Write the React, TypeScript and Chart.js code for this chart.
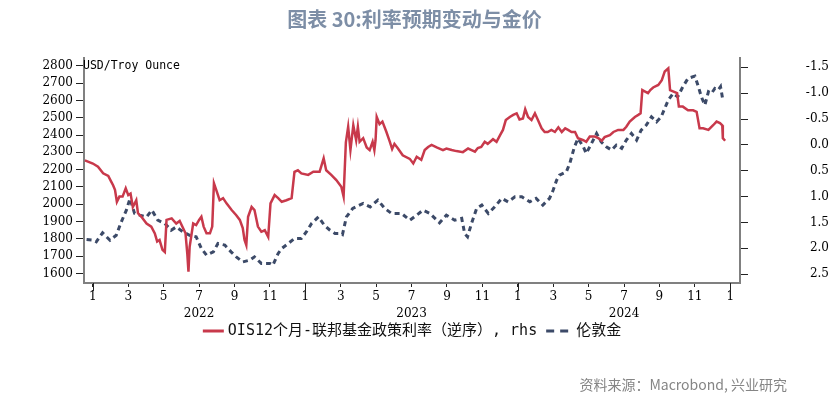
import React, { useEffect, useRef } from 'react';
import { Chart, registerables } from 'chart.js';

Chart.register(...registerables);

const titleText = '图表 30:利率预期变动与金价';
const sourceText = '资料来源：Macrobond, 兴业研究';
const unitLabel = 'USD/Troy Ounce';
const oisLabel = 'OIS12个月-联邦基金政策利率（逆序）, rhs';
const goldLabel = '伦敦金';

const leftTicks = [1600, 1700, 1800, 1900, 2000, 2100, 2200, 2300, 2400, 2500, 2600, 2700, 2800];
const rightTicks = [-1.5, -1.0, -0.5, 0.0, 0.5, 1.0, 1.5, 2.0, 2.5];

const goldDates = [
  '2021-12-21', '2022-01-01', '2022-01-07', '2022-01-18', '2022-01-31', '2022-02-10', '2022-02-18', '2022-02-26',
  '2022-03-04', '2022-03-12', '2022-03-21', '2022-04-02', '2022-04-11', '2022-04-21', '2022-05-03', '2022-05-14',
  '2022-05-23', '2022-06-04', '2022-06-15', '2022-06-26', '2022-07-05', '2022-07-14', '2022-07-26', '2022-08-03',
  '2022-08-15', '2022-08-26', '2022-09-04', '2022-09-15', '2022-09-27', '2022-10-05', '2022-10-17', '2022-11-01',
  '2022-11-06', '2022-11-15', '2022-11-21', '2022-12-02', '2022-12-13', '2022-12-25', '2023-01-03', '2023-01-12',
  '2023-01-24', '2023-02-03', '2023-02-12', '2023-02-20', '2023-02-28', '2023-03-04', '2023-03-11', '2023-03-22',
  '2023-04-09', '2023-04-21', '2023-05-04', '2023-05-16', '2023-05-28', '2023-06-14', '2023-06-28', '2023-07-10',
  '2023-07-21', '2023-08-02', '2023-08-19', '2023-08-31', '2023-09-14', '2023-09-26', '2023-10-01', '2023-10-06',
  '2023-10-13', '2023-10-22', '2023-10-31', '2023-11-11', '2023-11-22', '2023-12-04', '2023-12-15', '2023-12-27',
  '2024-01-08', '2024-01-22', '2024-02-02', '2024-02-13', '2024-02-24', '2024-03-01', '2024-03-07', '2024-03-12',
  '2024-03-24', '2024-03-30', '2024-04-07', '2024-04-13', '2024-04-22', '2024-04-27', '2024-05-06', '2024-05-15',
  '2024-05-23', '2024-06-01', '2024-06-10', '2024-06-18', '2024-06-27', '2024-07-05', '2024-07-14', '2024-07-23',
  '2024-07-31', '2024-08-09', '2024-08-18', '2024-08-27', '2024-09-04', '2024-09-10', '2024-09-16', '2024-09-24',
  '2024-10-02', '2024-10-11', '2024-10-20', '2024-11-01', '2024-11-07', '2024-11-12', '2024-11-18', '2024-11-24',
  '2024-11-29', '2024-12-05', '2024-12-11', '2024-12-15', '2024-12-19',
];

const goldPrices = [
  1797, 1793, 1783, 1835, 1792, 1821, 1898, 1966,
  2033, 1947, 1937, 1927, 1966, 1908, 1889, 1850,
  1869, 1840, 1821, 1812, 1744, 1706, 1725, 1773,
  1764, 1725, 1696, 1667, 1677, 1696, 1658, 1658,
  1648, 1716, 1744, 1773, 1802, 1802, 1841, 1889,
  1927, 1879, 1850, 1831, 1831, 1825, 1927, 1976,
  2005, 1985, 2024, 1976, 1947, 1947, 1908, 1937,
  1966, 1947, 1893, 1937, 1908, 1918, 1831, 1812,
  1889, 1976, 1995, 1947, 1985, 2034, 2014, 2043,
  2043, 2014, 2034, 1995, 2034, 2082, 2139, 2168,
  2187, 2236, 2332, 2380, 2332, 2294, 2351, 2409,
  2361, 2332, 2313, 2342, 2323, 2371, 2409, 2371,
  2428, 2457, 2505, 2476, 2505, 2554, 2602, 2640,
  2621, 2679, 2727, 2740, 2679, 2621, 2573, 2650,
  2640, 2669, 2660, 2679, 2602,
];

const oisDates = [
  '2021-12-18',
  '2022-01-01', '2022-01-10', '2022-01-19', '2022-01-28',
  '2022-02-02', '2022-02-05', '2022-02-08', '2022-02-11', '2022-02-15', '2022-02-20', '2022-02-25',
  '2022-03-01', '2022-03-05', '2022-03-09', '2022-03-15', '2022-03-18', '2022-03-24',
  '2022-04-02', '2022-04-10', '2022-04-16', '2022-04-20', '2022-04-24', '2022-04-29',
  '2022-05-03', '2022-05-06', '2022-05-15', '2022-05-23', '2022-05-29',
  '2022-06-04', '2022-06-08', '2022-06-11', '2022-06-13', '2022-06-15', '2022-06-21', '2022-06-26',
  '2022-07-01', '2022-07-05', '2022-07-09', '2022-07-14', '2022-07-20', '2022-07-24', '2022-07-27', '2022-07-31',
  '2022-08-06', '2022-08-12', '2022-08-18', '2022-08-27',
  '2022-09-04', '2022-09-10', '2022-09-15', '2022-09-18', '2022-09-21', '2022-09-24', '2022-09-30',
  '2022-10-05', '2022-10-11', '2022-10-17', '2022-10-23', '2022-10-29',
  '2022-11-02', '2022-11-09', '2022-11-15', '2022-11-21', '2022-11-29',
  '2022-12-08', '2022-12-13', '2022-12-19', '2022-12-25',
  '2023-01-06', '2023-01-15', '2023-01-26',
  '2023-02-02', '2023-02-06', '2023-02-14', '2023-02-22',
  '2023-03-02', '2023-03-06', '2023-03-10', '2023-03-14', '2023-03-18', '2023-03-23', '2023-03-28', '2023-03-31',
  '2023-04-03', '2023-04-09', '2023-04-15', '2023-04-20', '2023-04-25', '2023-04-28', '2023-04-30',
  '2023-05-02', '2023-05-07', '2023-05-12', '2023-05-19', '2023-05-25', '2023-05-29',
  '2023-06-02', '2023-06-08', '2023-06-16', '2023-06-28',
  '2023-07-04', '2023-07-10', '2023-07-18', '2023-07-24', '2023-07-30',
  '2023-08-05', '2023-08-14', '2023-08-25', '2023-08-31',
  '2023-09-09', '2023-09-17', '2023-09-28',
  '2023-10-07', '2023-10-13', '2023-10-19', '2023-10-24', '2023-10-30',
  '2023-11-05', '2023-11-10', '2023-11-19', '2023-11-25',
  '2023-12-01', '2023-12-06', '2023-12-11', '2023-12-18', '2023-12-24', '2023-12-30',
  '2024-01-04', '2024-01-10', '2024-01-14', '2024-01-19', '2024-01-25', '2024-01-31',
  '2024-02-05', '2024-02-11', '2024-02-16', '2024-02-21', '2024-02-27',
  '2024-03-04', '2024-03-10', '2024-03-16', '2024-03-22', '2024-03-27',
  '2024-04-02', '2024-04-08', '2024-04-13', '2024-04-22', '2024-04-27',
  '2024-05-03', '2024-05-12', '2024-05-18', '2024-05-24', '2024-05-29',
  '2024-06-07', '2024-06-13', '2024-06-21', '2024-06-30',
  '2024-07-05', '2024-07-11', '2024-07-20', '2024-07-26', '2024-07-30',
  '2024-08-02', '2024-08-07', '2024-08-12', '2024-08-16', '2024-08-21', '2024-08-30',
  '2024-09-05', '2024-09-10', '2024-09-16', '2024-09-19', '2024-09-25',
  '2024-10-01', '2024-10-04', '2024-10-11', '2024-10-20', '2024-10-29',
  '2024-11-04', '2024-11-09', '2024-11-15', '2024-11-24',
  '2024-12-02', '2024-12-08', '2024-12-14', '2024-12-18', '2024-12-19', '2024-12-23',
];

const oisSpread = [
  0.30,
  0.36, 0.42, 0.55, 0.60,
  0.71, 0.78, 0.87, 1.10, 1.00, 1.00, 0.84,
  0.97, 0.94, 1.20, 1.07, 1.32, 1.39,
  1.52, 1.58, 1.71, 1.87, 1.84, 2.03,
  2.07, 1.45, 1.42, 1.52, 1.47,
  1.61, 1.71, 2.10, 2.45, 1.97, 1.52, 1.55,
  1.45, 1.39, 1.58, 1.71, 1.71, 1.58, 0.74, 0.87,
  1.07, 1.03, 1.13, 1.26,
  1.36, 1.45, 1.61, 1.84, 1.94, 1.39, 1.20,
  1.26, 1.58, 1.68, 1.65, 1.78,
  1.13, 0.97, 1.03, 1.10, 1.07,
  1.03, 0.52, 0.49, 0.55,
  0.58, 0.52, 0.52,
  0.26, 0.49, 0.58, 0.68,
  0.81, 1.00, -0.05, -0.35, 0.10, -0.38, -0.09, -0.35,
  -0.06, -0.13, 0.05, 0.10, -0.06, 0.10, -0.09,
  -0.54, -0.40, -0.45, -0.25, -0.06, 0.08,
  -0.02, 0.07, 0.20, 0.27,
  0.36, 0.23, 0.29, 0.10, 0.04,
  0.00, 0.05, 0.10, 0.07,
  0.10, 0.12, 0.14,
  0.07, 0.10, 0.13, 0.06, 0.04,
  -0.06, -0.02, -0.11, -0.06,
  -0.19, -0.29, -0.48, -0.54, -0.58, -0.61,
  -0.49, -0.51, -0.69, -0.54, -0.48, -0.61,
  -0.48, -0.32, -0.25, -0.25, -0.29,
  -0.25, -0.34, -0.25, -0.32, -0.29,
  -0.25, -0.25, -0.13, -0.09, -0.06,
  -0.16, -0.16, -0.13, -0.08, -0.15,
  -0.19, -0.25, -0.29, -0.29,
  -0.35, -0.45, -0.54, -0.58, -0.61,
  -1.06, -1.03, -1.00, -1.06, -1.11, -1.16,
  -1.25, -1.42, -1.48, -1.06, -1.03,
  -1.00, -0.74, -0.74, -0.67, -0.67,
  -0.64, -0.32, -0.32, -0.29,
  -0.38, -0.45, -0.42, -0.38, -0.13, -0.08,
];

const BASE_YEAR = 2022;
const X_MIN = -0.5;
const X_MAX = 36.55;
const LEFT_MIN = 1545;
const LEFT_MAX = 2845;
const RIGHT_MIN = -1.68;
const RIGHT_MAX = 2.67;

const RED = '#c8394b';
const NAVY = '#3c4a68';
const AXIS_FONT = 'DejaVu Serif';

function monthIndex(d: string): number {
  const [y, m, day] = d.split('-').map(Number);
  const dim = new Date(y, m, 0).getDate();
  return (y - BASE_YEAR) * 12 + (m - 1) + (day - 1) / dim;
}

const extrasPlugin = {
  id: 'extras',
  afterDraw(chart: any) {
    const { ctx, chartArea, scales } = chart;
    ctx.save();
    ctx.font = '11.5px "DejaVu Sans Mono"';
    ctx.fillStyle = '#000';
    ctx.textAlign = 'left';
    ctx.textBaseline = 'middle';
    ctx.fillText(unitLabel, chartArea.left - 1, chartArea.top + 8);

    const xs = scales.x;
    ctx.strokeStyle = '#222';
    ctx.lineWidth = 1;
    xs.ticks.forEach((t: any) => {
      if (Math.round(t.value) % 12 === 0) {
        const px = Math.round(xs.getPixelForValue(t.value)) + 0.5;
        ctx.beginPath();
        ctx.moveTo(px, chartArea.bottom);
        ctx.lineTo(px, chartArea.bottom + 8);
        ctx.stroke();
      }
    });

    const ds = chart.data.datasets;
    ctx.font = '15px "DejaVu Sans Mono", "Noto Sans CJK SC"';
    const w1 = ctx.measureText(ds[0].label).width;
    const w2 = ctx.measureText(ds[1].label).width;
    const seg1 = 21, seg2 = 27;
    const total = seg1 + 4 + w1 + 9 + seg2 + 3 + w2;
    let x = (chartArea.left + chartArea.right) / 2 - total / 2;
    const ly = chartArea.bottom + 48;
    ctx.lineCap = 'butt';
    ctx.strokeStyle = ds[0].borderColor;
    ctx.lineWidth = 3;
    ctx.setLineDash([]);
    ctx.beginPath();
    ctx.moveTo(x, ly);
    ctx.lineTo(x + seg1, ly);
    ctx.stroke();
    x += seg1 + 4;
    ctx.fillStyle = '#111';
    ctx.textBaseline = 'middle';
    ctx.fillText(ds[0].label, x, ly);
    x += w1 + 9;
    ctx.strokeStyle = ds[1].borderColor;
    ctx.lineWidth = 3;
    ctx.setLineDash([8, 6]);
    ctx.beginPath();
    ctx.moveTo(x, ly);
    ctx.lineTo(x + seg2, ly);
    ctx.stroke();
    ctx.setLineDash([]);
    x += seg2 + 3;
    ctx.fillText(ds[1].label, x, ly);
    ctx.restore();
  },
};

export default function App() {
  const ref = useRef<HTMLCanvasElement>(null);

  useEffect(() => {
    const canvas = ref.current;
    if (!canvas) return;
    const axisTickFont = { family: AXIS_FONT, size: 12 };
    const chart = new Chart(canvas, {
      type: 'line',
      data: {
        datasets: [
          {
            label: oisLabel,
            data: oisDates.map((d, i) => ({ x: monthIndex(d), y: oisSpread[i] })),
            yAxisID: 'y1',
            borderColor: RED,
            backgroundColor: RED,
            borderWidth: 2.5,
            pointRadius: 0,
            tension: 0,
          },
          {
            label: goldLabel,
            data: goldDates.map((d, i) => ({ x: monthIndex(d), y: goldPrices[i] })),
            yAxisID: 'y',
            borderColor: NAVY,
            backgroundColor: NAVY,
            borderWidth: 3,
            borderDash: [5, 4],
            pointRadius: 0,
            tension: 0,
          },
        ],
      },
      options: {
        responsive: false,
        animation: false,
        devicePixelRatio: 1,
        layout: { padding: { left: 0, right: 0, top: 58, bottom: 75 } },
        plugins: {
          legend: { display: false },
          title: { display: false },
          tooltip: { enabled: false },
        },
        scales: {
          x: {
            type: 'linear',
            position: 'bottom',
            min: X_MIN,
            max: X_MAX,
            afterFit: (s: any) => { s.height = 40; },
            grid: { drawOnChartArea: false, drawTicks: true, tickLength: 4, tickColor: '#222' },
            border: { display: true, color: '#808080', width: 2 },
            ticks: {
              stepSize: 2,
              includeBounds: false,
              autoSkip: false,
              maxRotation: 0,
              padding: 1,
              color: '#000',
              font: { family: AXIS_FONT, size: 12, lineHeight: 1.42 },
              callback: (v: any) => {
                const mi = Math.round(Number(v));
                const mo = ((mi % 12) + 12) % 12 + 1;
                const yr = BASE_YEAR + Math.floor(mi / 12);
                return mo === 7 ? [String(mo), String(yr)] : String(mo);
              },
            },
          },
          y: {
            type: 'linear',
            position: 'left',
            min: LEFT_MIN,
            max: LEFT_MAX,
            afterFit: (s: any) => { s.width = 84; },
            afterBuildTicks: (s: any) => { s.ticks = leftTicks.map((v) => ({ value: v })); },
            grid: { drawOnChartArea: false, drawTicks: true, tickLength: 8, tickColor: '#222' },
            border: { display: true, color: '#808080', width: 2 },
            ticks: {
              padding: 3,
              color: '#000',
              font: axisTickFont,
              callback: (v: any) => String(v),
            },
          },
          y1: {
            type: 'linear',
            position: 'right',
            reverse: true,
            min: RIGHT_MIN,
            max: RIGHT_MAX,
            afterFit: (s: any) => { s.width = 89; },
            afterBuildTicks: (s: any) => { s.ticks = rightTicks.map((v) => ({ value: v })); },
            grid: { drawOnChartArea: false, drawTicks: true, tickLength: 8, tickColor: '#222' },
            border: { display: true, color: '#808080', width: 2 },
            ticks: {
              padding: 5,
              crossAlign: 'far',
              color: '#000',
              font: axisTickFont,
              callback: (v: any) => Number(v).toFixed(1),
            },
          },
        },
      } as any,
      plugins: [extrasPlugin],
    });
    return () => chart.destroy();
  }, []);

  return (
    <div style={{ position: 'fixed', left: 0, top: 0, width: 829, height: 398, background: '#fff', overflow: 'hidden' }}>
      <canvas ref={ref} width={829} height={398} style={{ position: 'absolute', left: 0, top: 0, width: 829, height: 398 }} />
      <div
        style={{
          position: 'absolute', top: 4, left: 0, width: 829, textAlign: 'center',
          fontFamily: '"Noto Sans CJK SC"', fontWeight: 700, fontSize: 20, color: '#7d8ea6', whiteSpace: 'nowrap',
        }}
      >
        {titleText}
      </div>
      <div
        style={{
          position: 'absolute', top: 374, right: 42,
          fontFamily: '"Noto Sans CJK SC"', fontSize: 14, color: '#858585', whiteSpace: 'nowrap',
        }}
      >
        {sourceText}
      </div>
    </div>
  );
}
